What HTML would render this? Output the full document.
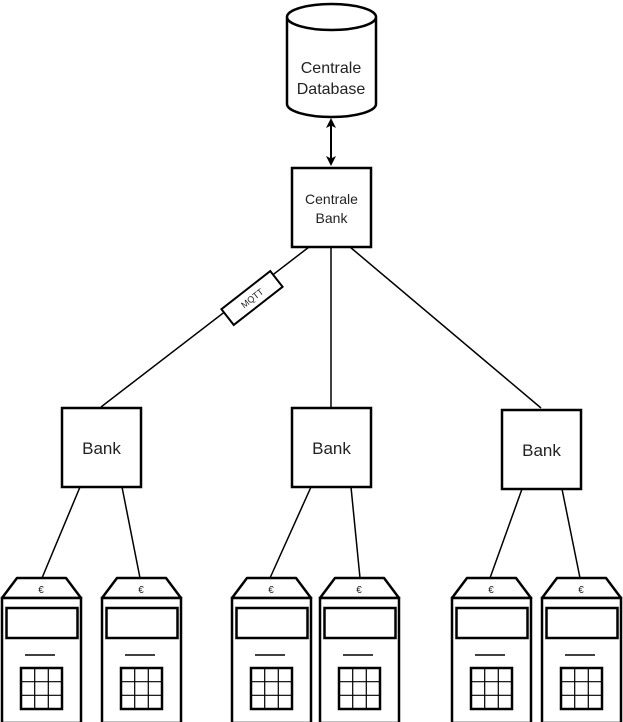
<!DOCTYPE html>
<html><head><style>body{margin:0;background:#fff}svg{display:block}text{font-family:"Liberation Sans",Arial,sans-serif;fill:#222}</style></head>
<body>
<svg width="623" height="722" viewBox="0 0 623 722" xmlns="http://www.w3.org/2000/svg">
<defs>
<marker id="a" markerWidth="10" markerHeight="10" refX="7" refY="5" orient="auto-start-reverse" markerUnits="userSpaceOnUse"><path d="M0,0 L10,5 L0,10 L2.5,5 Z" fill="#000"/></marker>
<g id="atm">
<path d="M17,578 L66,578 L81,598 L2,598 Z" fill="#fff" stroke="#000" stroke-width="2.5" stroke-linejoin="round"/>
<text x="41" y="593" font-size="10" text-anchor="middle">€</text>
<rect x="2" y="598" width="79" height="125" fill="#fff" stroke="#000" stroke-width="2.5"/>
<rect x="6.5" y="608" width="71" height="30" fill="none" stroke="#000" stroke-width="2.5"/>
<line x1="25" y1="655" x2="55" y2="655" stroke="#000" stroke-width="1.5"/>
<rect x="21" y="668" width="41" height="41" fill="none" stroke="#000" stroke-width="2.5"/>
<path d="M34.7,668 V709 M48.3,668 V709 M21,681.7 H62 M21,695.3 H62" stroke="#000" stroke-width="1.2"/>
</g>
</defs>
<g stroke="#000" stroke-width="1.5" fill="none">
<line x1="309" y1="247" x2="101" y2="407"/>
<line x1="331" y1="247" x2="331" y2="407"/>
<line x1="350" y1="247" x2="541" y2="408"/>
<line x1="80" y1="487" x2="42" y2="578"/>
<line x1="122" y1="487" x2="140" y2="578"/>
<line x1="311" y1="487" x2="270" y2="578"/>
<line x1="351" y1="487" x2="360" y2="578"/>
<line x1="522" y1="489" x2="490" y2="578"/>
<line x1="562" y1="489" x2="580" y2="578"/>
<line x1="331" y1="121" x2="331" y2="163" marker-start="url(#a)" marker-end="url(#a)" stroke-width="2"/>
</g>
<g transform="translate(252,298) rotate(-38)">
<rect x="-31" y="-10" width="62" height="20" fill="#fff" stroke="#000" stroke-width="2"/>
<text x="0" y="3.5" font-size="9" text-anchor="middle">MQTT</text>
</g>
<path d="M287,17 V104 A44.5,13 0 0 0 376,104 V17 A44.5,13 0 0 0 287,17 A44.5,13 0 0 0 376,17" fill="#fff" stroke="#000" stroke-width="2.5"/>
<text x="331" y="73" font-size="16" text-anchor="middle">Centrale</text>
<text x="331" y="94" font-size="16" text-anchor="middle">Database</text>
<rect x="292" y="168" width="79" height="79" fill="#fff" stroke="#000" stroke-width="2.5"/>
<text x="331.5" y="204" font-size="14" text-anchor="middle">Centrale</text>
<text x="331.5" y="223" font-size="14" text-anchor="middle">Bank</text>
<rect x="62" y="408" width="79" height="79" fill="#fff" stroke="#000" stroke-width="2.5"/>
<text x="101.5" y="454" font-size="17" text-anchor="middle">Bank</text>
<rect x="292" y="408" width="79" height="79" fill="#fff" stroke="#000" stroke-width="2.5"/>
<text x="331.5" y="454" font-size="17" text-anchor="middle">Bank</text>
<rect x="502" y="410" width="79" height="79" fill="#fff" stroke="#000" stroke-width="2.5"/>
<text x="541.5" y="456" font-size="17" text-anchor="middle">Bank</text>
<use href="#atm"/>
<use href="#atm" x="100"/>
<use href="#atm" x="230"/>
<use href="#atm" x="318"/>
<use href="#atm" x="450"/>
<use href="#atm" x="540"/>
</svg>
</body></html>
